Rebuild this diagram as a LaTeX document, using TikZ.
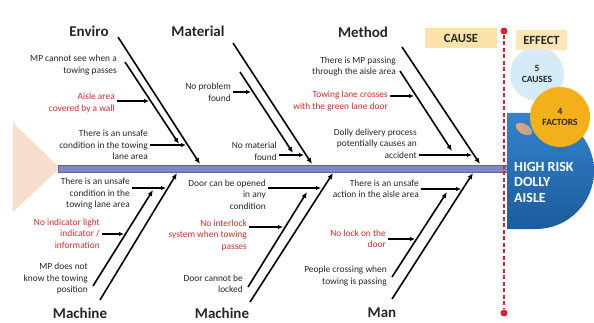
\documentclass[tikz,border=0pt]{standalone}
\usepackage{fontspec}
\setmainfont{Carlito}
\usetikzlibrary{arrows.meta,positioning,calc}
\definecolor{FishRed}{HTML}{CC2E2A}
\definecolor{FishInk}{HTML}{262626}
\definecolor{SpineBlue}{HTML}{8087BD}
\definecolor{SpineEdge}{HTML}{5C639C}
\definecolor{TailPeach}{HTML}{F7DDCB}
\definecolor{CauseTan}{HTML}{FBE2A8}
\definecolor{EffectTan}{HTML}{FCE6B6}
\definecolor{CauseSky}{HTML}{D5ECF8}
\definecolor{FactorGold}{HTML}{F4B01B}
\definecolor{HeadBlueTop}{HTML}{3483CB}
\definecolor{HeadBlueBot}{HTML}{1B5B9C}
\definecolor{DashRed}{HTML}{E0202E}

\begin{document}
\begin{tikzpicture}[x=1pt,y=-1pt,>=Latex]
\tikzstyle{cat}=[font=\fontsize{15}{17}\selectfont\bfseries,text=FishInk,inner sep=0pt]
\tikzstyle{cause}=[font=\fontsize{9.4}{11.5}\selectfont,text=FishInk,align=right,
                   anchor=east,inner sep=0pt]
\tikzstyle{redcause}=[cause,text=FishRed]
\tikzstyle{bone}=[line width=1.6pt,-{Latex[length=6pt,width=5pt]}]
\tikzstyle{twig}=[line width=1.6pt,-{Latex[length=5pt,width=4.5pt]},shorten <=2pt]
\tikzstyle{tag}=[font=\fontsize{12.5}{14}\selectfont\bfseries,text=FishInk,
                 minimum height=20pt,inner sep=0pt]
\tikzstyle{bubble}=[circle,font=\fontsize{9.5}{11.5}\selectfont\bfseries,text=FishInk,
                    align=center,inner sep=0pt]
\useasboundingbox (0,0) rectangle (594,323);

% tail and spine
\fill[TailPeach] (13,123) -- (60,168) -- (13,212) -- cycle;
\fill[SpineBlue,draw=SpineEdge,line width=0.6pt] (58,165) rectangle (507,172);

% Enviro
\node[cat] (enviro) at (89,31) {Enviro};
\coordinate (env1) at (118,37);  \coordinate (env2) at (200,164);
\coordinate (env3) at (125,62);  \coordinate (env4) at (179,144);
\coordinate (envT2) at (149,101); \coordinate (envT3) at (186,145);
\node[cause] (envC1) at (117,65) {MP cannot see when a\\towing passes};
\node[redcause] (envC2) at (115,103) {Aisle area\\covered by a wall};
\node[cause] (envC3) at (148,145) {There is an unsafe\\condition in the towing\\lane area};
\draw[bone] (env1) -- (env2);
\draw[bone] (env3) -- (env4);
\draw[twig] (envT2 -| envC2.east) -- (envT2);
\draw[twig] (envT3 -| envC3.east) -- (envT3);

% Material
\node[cat] (material) at (198,31) {Material};
\coordinate (mat1) at (233,43);  \coordinate (mat2) at (312,164);
\coordinate (mat3) at (240,72);  \coordinate (mat4) at (293,153);
\coordinate (matT1) at (251,92); \coordinate (matT2) at (304,155);
\node[cause] (matC1) at (231,92.5) {No problem\\found};
\node[cause] (matC2) at (277,151.5) {No material\\found};
\draw[bone] (mat1) -- (mat2);
\draw[bone] (mat3) -- (mat4);
\draw[twig] (matT1 -| matC1.east) -- (matT1);
\draw[twig] (matT2 -| matC2.east) -- (matT2);

% Method
\node[cat] (method) at (363,32) {Method};
\coordinate (met1) at (402,47);  \coordinate (met2) at (480,164);
\coordinate (met3) at (400,71);  \coordinate (met4) at (452,151);
\coordinate (metT2) at (414,96); \coordinate (metT3) at (472,155);
\node[cause] (metC1) at (396,66.5) {There is MP passing\\through the aisle area};
\node[redcause] (metC2) at (388,101) {Towing lane crosses\\with the green lane door};
\node[cause] (metC3) at (417,143.5) {Dolly delivery process\\potentially causes an\\accident};
\draw[bone] (met1) -- (met2);
\draw[bone] (met3) -- (met4);
\draw[twig] (metT2 -| metC2.east) -- (metT2);
\draw[twig] (metT3 -| metC3.east) -- (metT3);

% Machine (left)
\node[cat] (machine) at (80,313) {Machine};
\coordinate (mac1) at (100,300); \coordinate (mac2) at (177,173);
\coordinate (mac3) at (93,286);  \coordinate (mac4) at (153,190);
\coordinate (macT1) at (166,188); \coordinate (macT2) at (124,234);
\node[cause] (macC1) at (130,194) {There is an unsafe\\condition in the\\towing lane area};
\node[redcause] (macC2) at (100,233.5) {No indicator light\\indicator /\\information};
\node[cause] (macC3) at (88,278.5) {MP does not\\know the towing\\position};
\draw[bone] (mac1) -- (mac2);
\draw[bone] (mac3) -- (mac4);
\draw[twig] (macT1 -| macC1.east) -- (macT1);
\draw[twig] (macT2 -| macC2.east) -- (macT2);

% Machine (middle)
\node[cat] (machineb) at (222,313) {Machine};
\coordinate (mch1) at (250,302); \coordinate (mch2) at (333,173);
\coordinate (mch3) at (248,287); \coordinate (mch4) at (307,192);
\coordinate (mchT1) at (321,188); \coordinate (mchT2) at (283,227);
\node[cause] (mchC1) at (266,194.5) {Door can be opened\\in any\\condition};
\node[redcause] (mchC2) at (247,235) {No interlock\\system when towing\\passes};
\node[cause] (mchC3) at (243,284) {Door cannot be\\locked};
\draw[bone] (mch1) -- (mch2);
\draw[bone] (mch3) -- (mch4);
\draw[twig] (mchT1 -| mchC1.east) -- (mchT1);
\draw[twig] (mchT2 -| mchC2.east) -- (mchT2);

% Man
\node[cat] (man) at (382,313) {Man};
\coordinate (man1) at (392,299); \coordinate (man2) at (473,173);
\coordinate (man3) at (392,277); \coordinate (man4) at (447,192);
\coordinate (manT1) at (461,189); \coordinate (manT2) at (415,239);
\node[cause] (manC1) at (419,189) {There is an unsafe\\action in the aisle area};
\node[redcause] (manC2) at (386,239) {No lock on the\\door};
\node[cause] (manC3) at (387,276) {People crossing when\\towing is passing};
\draw[bone] (man1) -- (man2);
\draw[bone] (man3) -- (man4);
\draw[twig] (manT1 -| manC1.east) -- (manT1);
\draw[twig] (manT2 -| manC2.east) -- (manT2);

% effect side
\node[bubble,fill=CauseSky,minimum size=54pt] (causes) at (537,74) {5\\CAUSES};
\node[tag,fill=CauseTan,minimum width=72pt] (cause) at (461,38) {CAUSE};
\node[tag,fill=EffectTan,minimum width=51pt] (effect) at (541.5,40) {EFFECT};
\shade[top color=HeadBlueTop,bottom color=HeadBlueBot]
  (507,113) -- (536,113) arc[start angle=90,end angle=-90,radius=58pt] -- (507,229) -- cycle;
\shade[left color=orange!60!brown!70,right color=gray!70,rotate around={-30:(524,129)}]
  (524,129) ellipse (9pt and 5pt);
\node[bubble,fill=FactorGold,minimum size=60pt] (factors) at (560,117) {4\\FACTORS};
\node[anchor=west,align=left,text=white,inner sep=0pt,
      font=\fontsize{14}{15.5}\selectfont\bfseries] (risk) at (514,182)
  {HIGH RISK\\DOLLY\\AISLE};

% cause / effect divider
\node[circle,fill=DashRed,inner sep=0pt,minimum size=7pt] (dotTop) at (504,31) {};
\node[circle,fill=DashRed,inner sep=0pt,minimum size=7pt] (dotBot) at (504,313) {};
\draw[DashRed,line width=1.2pt,dash pattern=on 4pt off 2.5pt] (dotTop) -- (dotBot);
\end{tikzpicture}
\end{document}
